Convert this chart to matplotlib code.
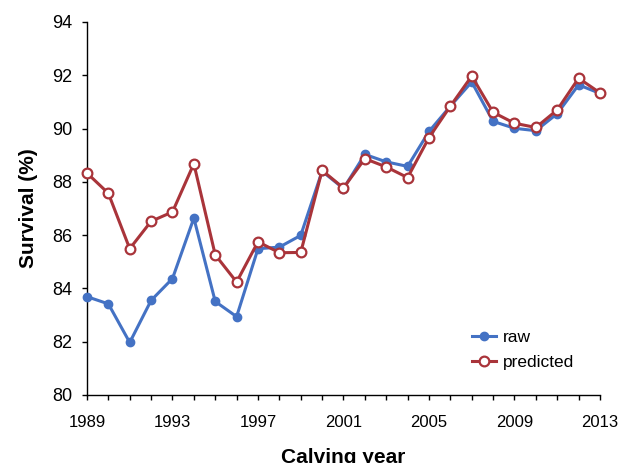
import matplotlib
matplotlib.use('Agg')
import matplotlib.pyplot as plt
from matplotlib.ticker import MultipleLocator

plt.rcParams['font.family'] = ['Liberation Sans', 'DejaVu Sans']

# ── Data ──────────────────────────────────────────────────────────────────────
years = list(range(1989, 2014))
raw = [83.69, 83.42, 81.97, 83.55, 84.37, 86.64, 83.51, 82.94, 85.49, 85.55,
       85.99, 88.40, 87.75, 89.03, 88.75, 88.58, 89.89, 90.84, 91.75, 90.27,
       90.01, 89.92, 90.56, 91.64, 91.32]
predicted = [88.33, 87.57, 85.49, 86.52, 86.87, 88.68, 85.26, 84.24, 85.75,
             85.34, 85.35, 88.43, 87.77, 88.87, 88.56, 88.16, 89.66, 90.84,
             91.97, 90.61, 90.20, 90.04, 90.70, 91.89, 91.34]
xticks = [1989, 1993, 1997, 2001, 2005, 2009, 2013]

blue = '#4472C4'
red = '#A9343A'

# ── Figure ────────────────────────────────────────────────────────────────────
fig = plt.figure(figsize=(6.2, 4.63), dpi=100)
ax = fig.add_axes([0.1403, 0.1469, 0.8274, 0.8056])

ax.plot(years, raw, color=blue, lw=2.2, marker='o', ms=6,
        mfc=blue, mec=blue, label='raw', zorder=3, clip_on=False)
ax.plot(years, predicted, color=red, lw=2.2, marker='o', ms=7,
        mfc='white', mec=red, mew=1.6, label='predicted', zorder=4,
        clip_on=False)

ax.set_xlim(1989, 2013)
ax.set_ylim(80, 94)
ax.set_xticks(xticks)
ax.xaxis.set_minor_locator(MultipleLocator(1))
ax.yaxis.set_major_locator(MultipleLocator(2))
ax.tick_params(axis='both', which='both', direction='out', color='black',
               length=3.8, width=1.0)
ax.tick_params(axis='x', labelsize=12, pad=10.5)
ax.tick_params(axis='y', labelsize=13, pad=7)

for side in ('top', 'right'):
    ax.spines[side].set_visible(False)
for side in ('left', 'bottom'):
    ax.spines[side].set_linewidth(1.0)

ax.set_xlabel('Calving year', fontsize=15, fontweight='bold', labelpad=13)
ax.set_ylabel('Survival (%)', fontsize=15, fontweight='bold', labelpad=10)

ax.legend(loc='lower right', bbox_to_anchor=(0.98, 0.025), frameon=False,
          fontsize=12.5, handlelength=1.4, handletextpad=0.4,
          labelspacing=0.55)

fig.savefig('out.png', dpi=100, facecolor='white')
